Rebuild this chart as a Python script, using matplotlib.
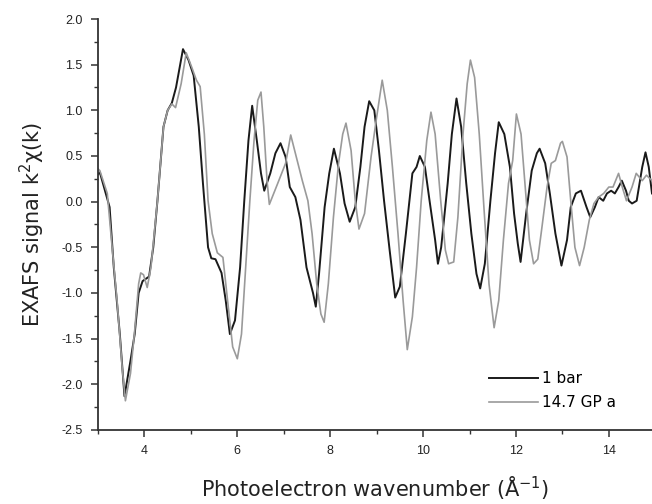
import matplotlib
matplotlib.use("Agg")
import matplotlib.pyplot as plt
from matplotlib.ticker import MultipleLocator, FormatStrFormatter

plt.rcParams['font.family'] = ['Liberation Sans', 'DejaVu Sans']
plt.rcParams['axes.unicode_minus'] = False

# 1 bar
k_1bar = [3.0, 3.04, 3.25, 3.34, 3.47, 3.57, 3.70, 3.79, 3.875, 3.96, 4.10, 4.19, 4.28, 4.41, 4.50,
          4.59, 4.68, 4.83, 4.95, 5.06, 5.17, 5.26, 5.37, 5.44, 5.53, 5.66, 5.75, 5.84, 5.95, 6.06,
          6.15, 6.24, 6.32, 6.42, 6.51, 6.58, 6.71, 6.82, 6.93, 7.04, 7.13, 7.25, 7.36, 7.49, 7.63,
          7.69, 7.76, 7.88, 7.98, 8.08, 8.21, 8.31, 8.42, 8.54, 8.65, 8.74, 8.84, 8.95, 9.05, 9.16,
          9.28, 9.40, 9.50, 9.63, 9.77, 9.86, 9.93, 10.04, 10.14, 10.26, 10.32, 10.39, 10.53, 10.62,
          10.72, 10.82, 10.93, 11.04, 11.15, 11.23, 11.33, 11.45, 11.55, 11.63, 11.75, 11.87, 11.96,
          12.04, 12.10, 12.22, 12.34, 12.45, 12.51, 12.63, 12.73, 12.85, 12.98, 13.10, 13.18, 13.29,
          13.40, 13.52, 13.60, 13.70, 13.78, 13.88, 13.96, 14.05, 14.13, 14.21, 14.28, 14.37, 14.43,
          14.50, 14.60, 14.72, 14.79, 14.86, 14.93]
chi_1bar = [0.30, 0.32, -0.06, -0.72, -1.45, -2.13, -1.74, -1.45, -1.0, -0.87, -0.82, -0.5, 0.01, 0.82, 1.0,
            1.08, 1.25, 1.67, 1.55, 1.38, 0.82, 0.2, -0.5, -0.62, -0.63, -0.78, -1.08, -1.45, -1.3, -0.72,
            0.01, 0.67, 1.05, 0.67, 0.31, 0.12, 0.31, 0.53, 0.64, 0.49, 0.16, 0.05, -0.2, -0.72, -1.0,
            -1.15, -0.79, -0.06, 0.31, 0.58, 0.31, -0.02, -0.22, -0.06, 0.38, 0.82, 1.10, 1.0, 0.56, 0.01,
            -0.53, -1.05, -0.93, -0.35, 0.31, 0.38, 0.50, 0.38, 0.01, -0.42, -0.68, -0.5, 0.2, 0.74,
            1.13, 0.82, 0.2, -0.35, -0.79, -0.95, -0.68, 0.01, 0.53, 0.87, 0.74, 0.38, -0.13,
            -0.46, -0.66, -0.13, 0.34, 0.53, 0.58, 0.42, 0.09, -0.35, -0.70, -0.42, -0.06, 0.09,
            0.12, -0.06, -0.17, -0.06, 0.05, 0.01, 0.09, 0.12, 0.09, 0.16, 0.23, 0.12, 0.01,
            -0.02, 0.01, 0.38, 0.54, 0.38, 0.09]

# 14.7 GPa
k_gpa = [3.0, 3.04, 3.20, 3.29, 3.41, 3.52, 3.59, 3.70, 3.79, 3.875, 3.92, 3.98, 4.06, 4.14, 4.28,
         4.41, 4.50, 4.59, 4.67, 4.79, 4.90, 5.02, 5.12, 5.20, 5.29, 5.37, 5.46, 5.57, 5.69, 5.79,
         5.90, 6.00, 6.09, 6.18, 6.27, 6.36, 6.44, 6.51, 6.57, 6.64, 6.69, 6.87, 7.04, 7.15, 7.27,
         7.40, 7.52, 7.61, 7.71, 7.80, 7.87, 7.96, 8.07, 8.18, 8.27, 8.34, 8.45, 8.54, 8.62, 8.74,
         8.88, 8.99, 9.12, 9.23, 9.34, 9.46, 9.57, 9.66, 9.77, 9.86, 9.96, 10.08, 10.17, 10.26,
         10.38, 10.48, 10.55, 10.66, 10.75, 10.86, 10.95, 11.02, 11.11, 11.21, 11.31, 11.42, 11.53,
         11.63, 11.73, 11.84, 11.93, 12.01, 12.11, 12.20, 12.29, 12.38, 12.47, 12.56, 12.67, 12.76,
         12.85, 12.96, 13.0, 13.10, 13.18, 13.27, 13.37, 13.47, 13.58, 13.68, 13.78, 13.89, 14.0,
         14.09, 14.21, 14.29, 14.38, 14.50, 14.59, 14.72, 14.81, 14.93]
chi_gpa = [0.36, 0.34, 0.09, -0.42, -1.08, -1.81, -2.18, -1.88, -1.41, -0.9, -0.78, -0.80, -0.94, -0.72, 0.01,
           0.82, 1.0, 1.07, 1.03, 1.29, 1.63, 1.47, 1.33, 1.26, 0.74, 0.01, -0.35, -0.56, -0.61, -1.08,
           -1.59, -1.72, -1.45, -0.72, 0.01, 0.67, 1.11, 1.20, 0.82, 0.23, -0.03, 0.2, 0.42, 0.73, 0.49,
           0.23, 0.01, -0.35, -0.9, -1.23, -1.32, -0.9, -0.17, 0.42, 0.74, 0.86, 0.56, 0.01, -0.30, -0.13,
           0.49, 0.89, 1.33, 1.0, 0.38, -0.35, -1.08, -1.62, -1.26, -0.72, 0.01, 0.67, 0.98, 0.74,
           0.01, -0.53, -0.68, -0.66, -0.17, 0.74, 1.29, 1.55, 1.36, 0.74, -0.06, -0.9, -1.38,
           -1.08, -0.42, 0.2, 0.45, 0.96, 0.74, 0.16, -0.42, -0.68, -0.63, -0.28, 0.16, 0.42,
           0.45, 0.64, 0.66, 0.49, 0.01, -0.5, -0.70, -0.5, -0.2, -0.02, 0.05, 0.09, 0.16,
           0.16, 0.31, 0.16, 0.01, 0.16, 0.31, 0.23, 0.29, 0.23]

labels = ['1 bar', '14.7 GP a']

fig = plt.figure(figsize=(6.52, 5.04), dpi=100)
ax = fig.add_axes([98/652, 1 - 430/504, 1 - 98/652, (430 - 19)/504])

ax.plot(k_1bar, chi_1bar, color='#1a1a1a', lw=1.4, label=labels[0])
ax.plot(k_gpa, chi_gpa, color='#9a9a9a', lw=1.2, label=labels[1])

ax.set_xlim(3, 14.93)
ax.set_ylim(-2.5, 2.0)
ax.xaxis.set_major_locator(MultipleLocator(2))
ax.xaxis.set_minor_locator(MultipleLocator(1))
ax.yaxis.set_major_locator(MultipleLocator(0.5))
ax.yaxis.set_minor_locator(MultipleLocator(0.25))
ax.yaxis.set_major_formatter(FormatStrFormatter('%.1f'))

for s in ['top', 'right']:
    ax.spines[s].set_visible(False)
for s in ['left', 'bottom']:
    ax.spines[s].set_color('#333333')
    ax.spines[s].set_linewidth(1.3)

ax.tick_params(which='major', direction='out', length=5, width=1.1, color='#333333',
               labelsize=9, labelcolor='#222222', pad=6)
ax.tick_params(which='minor', direction='out', length=3, width=1.0, color='#333333')

ax.set_xlabel('Photoelectron wavenumber (Å$^{-1}$)', fontsize=15, color='#222222',
              labelpad=12, family=['DejaVu Sans'])
ax.set_ylabel('EXAFS signal k$^2$χ(k)', fontsize=15, color='#222222',
              labelpad=10, family=['DejaVu Sans'])

leg = ax.legend(loc='center left', bbox_to_anchor=(489/652, 1 - 390.5/504),
                bbox_transform=fig.transFigure, frameon=False,
                prop={'family': 'DejaVu Sans', 'size': 11},
                handlelength=3.2, handletextpad=0.3, labelspacing=0.6,
                borderpad=0, borderaxespad=0)

fig.savefig('out.png', dpi=100)
